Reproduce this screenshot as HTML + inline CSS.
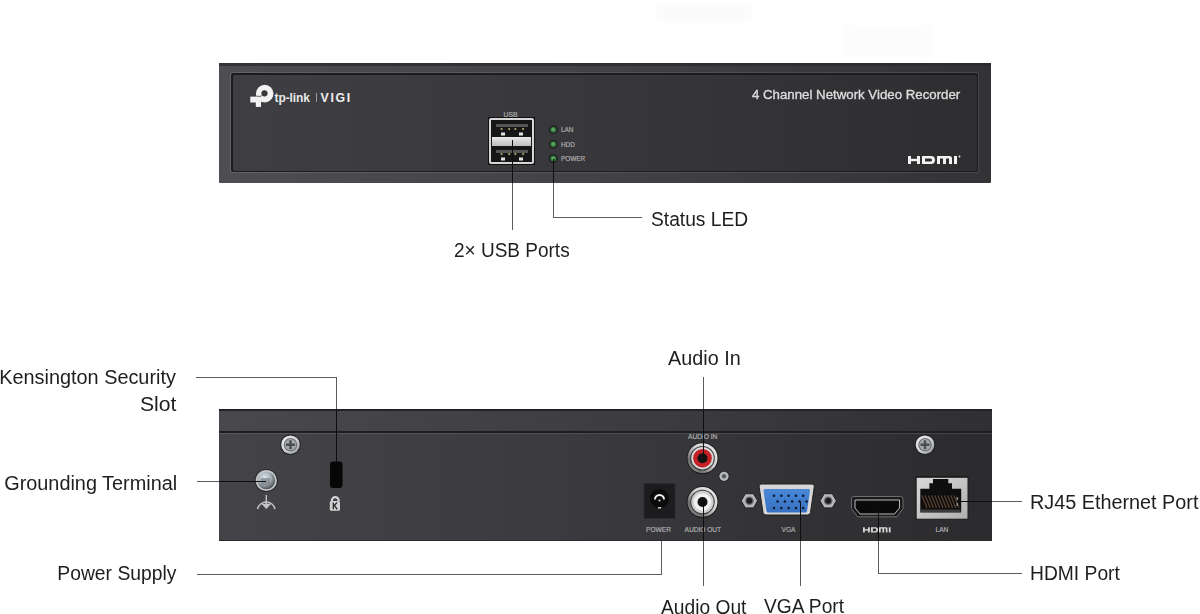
<!DOCTYPE html>
<html><head><meta charset="utf-8">
<style>
html,body{margin:0;padding:0;background:#fff;width:1200px;height:614px;overflow:hidden;position:relative;font-family:"Liberation Sans",sans-serif;}
.a{position:absolute;}
.lbl{position:absolute;font-size:20px;line-height:20px;color:#1e1e1e;white-space:nowrap;}
.r{text-align:right;}
.hl{position:absolute;height:1px;background:#5c5c5c;}
.vl{position:absolute;width:1px;background:#5c5c5c;}
.k{background:#0e0e0e;}
.sm{position:absolute;font-size:6px;line-height:6px;color:#b4b4b4;white-space:nowrap;font-weight:normal;-webkit-text-stroke:0.15px #b4b4b4;}
</style></head><body>

<div class="a" style="left:656px;top:4px;width:96px;height:18px;background:#fafafa;filter:blur(4px);"></div>
<div class="a" style="left:845px;top:26px;width:86px;height:30px;background:#fbfbfb;filter:blur(4px);"></div>
<!-- FRONT PANEL -->
<div class="a" style="left:219px;top:63px;width:772px;height:120px;background:linear-gradient(to right,#4e4e52,#424246 50%,#333336);border-radius:1px;"></div>
<div class="a" style="left:219px;top:63px;width:772px;height:3px;background:linear-gradient(to right,#343437,#2c2c2f);"></div>
<div class="a" style="left:230px;top:72px;width:749px;height:101px;border-radius:3px;background:linear-gradient(to right,#646468,#545458 50%,#48484c);"></div>
<div class="a" style="left:231px;top:73px;width:747px;height:99px;border-radius:2px;background:#1c1c1f;"></div>
<div class="a" style="left:233px;top:75px;width:744px;height:96px;border-radius:2px;background:linear-gradient(to right,#3f3f43,#38383c 45%,#2e2e31);"></div>
<!-- logo -->
<svg class="a" style="left:248px;top:84px;" width="26" height="25" viewBox="0 0 26 25">
 <circle cx="16.7" cy="9.6" r="8.8" fill="#f2f2f2"/>
 <circle cx="16.5" cy="9.3" r="3.1" fill="#38383b"/>
 <rect x="2.3" y="12.6" width="11" height="5.9" fill="#f2f2f2"/>
 <rect x="7.8" y="12.6" width="5.2" height="10.3" fill="#f2f2f2"/>
 <path d="M8.5 12.3 L13.2 12.3 L14.2 11" stroke="#3a3a3d" stroke-width="0.7" fill="none"/>
</svg>
<div class="a" style="left:274.5px;top:89.6px;font-size:12px;line-height:16px;font-weight:bold;color:#e8e8e8;letter-spacing:-0.1px;">tp-link</div>
<div class="a" style="left:316px;top:93px;width:1px;height:9px;background:#9a9a9a;"></div>
<div class="a" style="left:320.5px;top:89.6px;font-size:12.3px;line-height:16px;font-weight:bold;color:#f0f0f0;letter-spacing:1.7px;">VIGI</div>
<div class="a" style="left:752px;top:88px;font-size:12.5px;line-height:14px;font-weight:normal;color:#dcdcdc;-webkit-text-stroke:0.35px #dcdcdc;transform:scaleX(1.06);transform-origin:0 0;">4 Channel Network Video Recorder</div>
<!-- HDMI logo front -->
<svg class="a" style="left:906.5px;top:155px;" width="58" height="10" viewBox="0 0 58 10">
 <g fill="#f2f2f2">
  <rect x="1" y="1" width="3" height="8"/><rect x="10" y="1" width="3" height="8"/><rect x="1" y="3.8" width="12" height="2.4"/>
  <path d="M15 1 H24 Q28 1 28 5 Q28 9 24 9 H15 Z M18 3.4 V6.6 H23.5 Q25 6.6 25 5 Q25 3.4 23.5 3.4 Z"/>
  <path d="M30 1 H42.5 Q45 1 45 3.5 V9 H42 V3.4 H39 V9 H36 V3.4 H33 V9 H30 Z"/>
  <rect x="47" y="1" width="3" height="8"/>
  <circle cx="52.5" cy="1.5" r="0.9"/>
 </g>
</svg>
<!-- USB -->
<div class="a" style="left:488px;top:117px;width:47px;height:48px;background:#121213;"></div>
<div class="a" style="left:489px;top:118px;width:41px;height:42px;border:2px solid #d6d6d6;border-radius:2px;background:#161617;"></div>
<div class="a" style="left:495.5px;top:124px;width:32px;height:3px;background:#555555;"></div>
<div class="a" style="left:495.5px;top:149.5px;width:32px;height:3px;background:#555555;"></div>
<div class="a" style="left:492px;top:137px;width:39px;height:9px;background:linear-gradient(#e8e8e8,#bdbdbd);"></div>
<svg class="a" style="left:488px;top:117px;" width="47" height="48">
 <g fill="#bba760"><circle cx="13.6" cy="12" r="1.1"/><circle cx="21.2" cy="12" r="1.1"/><circle cx="27.3" cy="12" r="1.1"/><circle cx="35.1" cy="12" r="1.1"/>
 <circle cx="13.6" cy="37" r="1.1"/><circle cx="21.2" cy="37" r="1.1"/><circle cx="27.3" cy="37" r="1.1"/><circle cx="35.1" cy="37" r="1.1"/></g>
 <g fill="#e0e0e0"><rect x="13" y="15.5" width="4" height="3"/><rect x="31" y="15.5" width="4" height="3"/>
 <rect x="13" y="40.5" width="4" height="3"/><rect x="31" y="40.5" width="4" height="3"/></g>
</svg>
<div class="sm" style="left:503.5px;top:110.5px;font-size:6.8px;line-height:7px;">USB</div>
<!-- LEDs -->
<svg class="a" style="left:545px;top:122px;" width="16" height="45">
 <g><circle cx="8.3" cy="7.7" r="4.4" fill="#1b1e1b"/><circle cx="8.3" cy="7.7" r="3" fill="#357a40"/><circle cx="8.1" cy="7.4" r="1.5" fill="#62a86a"/></g>
 <g><circle cx="8.3" cy="22.3" r="4.4" fill="#1b1e1b"/><circle cx="8.3" cy="22.3" r="3" fill="#357a40"/><circle cx="8.1" cy="22.0" r="1.5" fill="#62a86a"/></g>
 <g><circle cx="8.3" cy="36.6" r="4.4" fill="#1b1e1b"/><circle cx="8.3" cy="36.6" r="3" fill="#357a40"/><circle cx="8.1" cy="36.300000000000004" r="1.5" fill="#62a86a"/></g>
</svg>
<div class="sm" style="left:561px;top:126px;font-size:6.4px;line-height:7px;">LAN</div>
<div class="sm" style="left:561px;top:140.5px;font-size:6.4px;line-height:7px;">HDD</div>
<div class="sm" style="left:561px;top:155px;font-size:6.4px;line-height:7px;">POWER</div>

<!-- REAR PANEL -->
<div class="a" style="left:219px;top:409px;width:773px;height:132px;background:linear-gradient(to right,#444448,#3b3b3f 45%,#2b2b2e);"></div>
<div class="a" style="left:219px;top:409px;width:773px;height:2px;background:#232326;"></div>
<div class="a" style="left:219px;top:411px;width:773px;height:20px;background:linear-gradient(to right,#49494d,#3f3f43 45%,#303033);"></div>
<div class="a" style="left:219px;top:431px;width:773px;height:2px;background:#1e1e21;"></div>
<div class="a" style="left:219px;top:433px;width:773px;height:1px;background:linear-gradient(to right,#5a5a5e,#4e4e52 50%,#444447);"></div>
<div class="a" style="left:219px;top:540px;width:773px;height:1px;background:#2a2a2d;"></div>

<!-- REAR COMPONENTS -->
<svg class="a" style="left:0;top:0;" width="1200" height="614" viewBox="0 0 1200 614">
 <defs>
  <linearGradient id="scr" x1="0" y1="0" x2="1" y2="1"><stop offset="0" stop-color="#f2f3f4"/><stop offset="0.6" stop-color="#c9cccf"/><stop offset="1" stop-color="#8a8d90"/></linearGradient>
  <radialGradient id="gscr" cx="40%" cy="35%" r="70%"><stop offset="0" stop-color="#dfe6ec"/><stop offset="0.5" stop-color="#a8b2ba"/><stop offset="1" stop-color="#3f4448"/></radialGradient>
  <linearGradient id="silv" x1="1" y1="0" x2="0" y2="1"><stop offset="0" stop-color="#f2f2f2"/><stop offset="0.45" stop-color="#cfcfcf"/><stop offset="0.75" stop-color="#6e6e6e"/><stop offset="1" stop-color="#9a9a9a"/></linearGradient>
  <linearGradient id="rjs" x1="0" y1="0" x2="1" y2="1"><stop offset="0" stop-color="#d9d9d9"/><stop offset="1" stop-color="#b0b0b0"/></linearGradient>
  <linearGradient id="vgab" x1="0" y1="0" x2="0" y2="1"><stop offset="0" stop-color="#4a88d6"/><stop offset="1" stop-color="#3670c2"/></linearGradient>
 </defs>
 <!-- screws top -->
 <circle cx="290.5" cy="444.7" r="10.3" fill="#1f1f21"/>
 <circle cx="290.5" cy="444.7" r="9.3" fill="url(#scr)"/>
 <circle cx="290.5" cy="444.7" r="6.8" fill="#6f7275"/>
 <circle cx="290.5" cy="444.7" r="5.6" fill="#a6a9ac"/>
 <path d="M289.3 440.2 L291.7 440.2 L291.7 443.5 L295.0 443.5 L295.0 445.9 L291.7 445.9 L291.7 449.2 L289.3 449.2 L289.3 445.9 L286.0 445.9 L286.0 443.5 L289.3 443.5 Z" fill="#4a4d50"/>
 <circle cx="925" cy="444.7" r="10.3" fill="#1f1f21"/>
 <circle cx="925" cy="444.7" r="9.3" fill="url(#scr)"/>
 <circle cx="925" cy="444.7" r="6.8" fill="#6f7275"/>
 <circle cx="925" cy="444.7" r="5.6" fill="#a6a9ac"/>
 <path d="M923.8 440.2 L926.2 440.2 L926.2 443.5 L929.5 443.5 L929.5 445.9 L926.2 445.9 L926.2 449.2 L923.8 449.2 L923.8 445.9 L920.5 445.9 L920.5 443.5 L923.8 443.5 Z" fill="#4a4d50"/>
 <!-- grounding terminal -->
 <circle cx="266.3" cy="480.5" r="11.6" fill="#2a2a2c"/>
 <circle cx="266.3" cy="480.5" r="10.6" fill="#c4c6c8"/>
 <circle cx="266.3" cy="480.5" r="8.8" fill="url(#gscr)"/>
 <rect x="261" y="478" width="9" height="7" fill="#7a8288" opacity="0.7"/>
 <!-- ground symbol -->
 <path d="M257.5 509 A9 9 0 0 1 275 509" fill="none" stroke="#c4c4c4" stroke-width="1.6"/>
 <line x1="266.3" y1="495" x2="266.3" y2="505" stroke="#c4c4c4" stroke-width="1.4"/>
 <path d="M261.5 504 L271 504 L266.3 509 Z" fill="#c4c4c4"/>
 <!-- kensington -->
 <rect x="330" y="461.5" width="12.5" height="26.5" rx="3" fill="#070708"/>
 <path d="M331.8 501 A3.5 3.8 0 0 1 338.8 501" fill="none" stroke="#d2d2d2" stroke-width="2.2"/>
 <rect x="329.8" y="501" width="10.2" height="9.8" rx="1.5" fill="#d2d2d2"/>
 <path d="M333.3 502.5 V509.3 M333.8 506 L337 502.5 M334.5 505.5 L337.2 509.3" stroke="#2a2a2a" stroke-width="1.3" fill="none"/>
 <!-- power jack -->
 <rect x="644" y="483.5" width="31" height="35" fill="#1c1c1e" stroke="#2b2b2e" stroke-width="1"/>
 <circle cx="659.5" cy="498.5" r="9.5" fill="#0b0b0c"/>
 <path d="M655 499.5 A4.5 4.5 0 0 1 664 499.5" fill="none" stroke="#f0f0f0" stroke-width="2"/>
 <circle cx="659.5" cy="500.5" r="1.1" fill="#d0d0d0"/>
 <rect x="658" y="507" width="3.2" height="1.6" fill="#bdbdbd"/>
 <!-- audio in -->
 <circle cx="702.5" cy="458.2" r="16" fill="#1c1c1e"/>
 <circle cx="702.5" cy="458.2" r="15" fill="url(#silv)"/>
 <circle cx="702.5" cy="458.2" r="12.3" fill="#3a3a3c"/>
 <circle cx="702.5" cy="458.2" r="11.2" fill="#d9d9d9"/>
 <circle cx="702.5" cy="458.2" r="9.3" fill="#c42026"/>
 <circle cx="702.5" cy="458.2" r="5" fill="#121212"/>
 <!-- small nut -->
 <circle cx="724" cy="476.3" r="5.6" fill="#2a2a2c"/>
 <circle cx="724" cy="476.3" r="4.6" fill="#b8babc"/>
 <circle cx="724" cy="476.3" r="2.2" fill="#5a5c5e"/>
 <!-- audio out -->
 <circle cx="702.5" cy="502" r="16" fill="#1c1c1e"/>
 <circle cx="702.5" cy="502" r="15" fill="url(#silv)"/>
 <circle cx="702.5" cy="502" r="12.3" fill="#3a3a3c"/>
 <circle cx="702.5" cy="502" r="11.2" fill="#cfcfcf"/>
 <circle cx="702.5" cy="502" r="8.8" fill="#f0f0f0"/>
 <circle cx="702.5" cy="502" r="5" fill="#121212"/>
 <!-- VGA nuts -->
 <polygon points="741.2,500.8 745.3,493.7 753.5,493.7 757.6,500.8 753.5,507.9 745.3,507.9" fill="#b4b6b8" stroke="#202022" stroke-width="1"/>
 <circle cx="749.4" cy="500.8" r="4.3" fill="#6a6c6e"/><circle cx="749.4" cy="500.8" r="3" fill="#1e1e20"/>
 <polygon points="820,500.8 824.1,493.7 832.3,493.7 836.4,500.8 832.3,507.9 824.1,507.9" fill="#b4b6b8" stroke="#202022" stroke-width="1"/>
 <circle cx="828.2" cy="500.8" r="4.3" fill="#6a6c6e"/><circle cx="828.2" cy="500.8" r="3" fill="#1e1e20"/>
 <!-- VGA shell -->
 <path d="M759 486 Q759 484 761.5 484 L812 484 Q814.5 484 814.3 486.5 L810.5 512.5 Q810 515 807.5 515 L766 515 Q763.5 515 763 512.5 Z" fill="#d6d6d6" stroke="#1e1e20" stroke-width="1"/>
 <path d="M763.5 490.5 Q763.5 489 765 489 L808.5 489 Q810.2 489 810 490.8 L807 511 Q806.7 512.5 805 512.5 L768.5 512.5 Q766.8 512.5 766.5 511 Z" fill="url(#vgab)"/>
 <g fill="#0d1a30">
  <circle cx="774" cy="495.7" r="1.3"/><circle cx="781.3" cy="495.7" r="1.3"/><circle cx="788.6" cy="495.7" r="1.3"/><circle cx="795.9" cy="495.7" r="1.3"/><circle cx="803.2" cy="495.7" r="1.3"/>
  <circle cx="777.6" cy="501.5" r="1.3"/><circle cx="784.9" cy="501.5" r="1.3"/><circle cx="792.2" cy="501.5" r="1.3"/><circle cx="799.5" cy="501.5" r="1.3"/><circle cx="806.6" cy="501.5" r="1.3"/>
  <circle cx="774" cy="508" r="1.3"/><circle cx="781.3" cy="508" r="1.3"/><circle cx="788.6" cy="508" r="1.3"/><circle cx="795.9" cy="508" r="1.3"/><circle cx="803.2" cy="508" r="1.3"/>
 </g>
 <!-- HDMI port -->
 <path d="M851.5 499 Q851.5 496.5 854 496.5 L900.5 496.5 Q903 496.5 903 499 L903 508.5 L897 516.8 L857.5 516.8 L851.5 508.5 Z" fill="#1a1a1c" stroke="#6e6e70" stroke-width="1"/>
 <path d="M855 500 L899.5 500 L899.5 508 L894.5 514 L860 514 L855 508 Z" fill="#0a0a0b" stroke="#b9b9b9" stroke-width="1"/>
 <!-- RJ45 -->
 <rect x="915.5" y="476" width="53" height="43.3" fill="#1a1a1c"/>
 <rect x="916.7" y="477.8" width="50.8" height="40.9" fill="url(#rjs)"/>
 <path d="M920.3 488.8 L929.4 488.8 L929.4 483.3 L933 483.3 L933 479 L948.3 479 L948.3 483.3 L952 483.3 L952 488.8 L961.2 488.8 L961.2 512.6 L920.3 512.6 Z" fill="#0e0e0f"/>
 <g stroke="#5e4330" stroke-width="1.2">
  <line x1="922.0" y1="495.5" x2="927.0" y2="508"/>
  <line x1="925.2" y1="495.5" x2="930.2" y2="508"/>
  <line x1="928.4" y1="495.5" x2="933.4" y2="508"/>
  <line x1="931.6" y1="495.5" x2="936.6" y2="508"/>
  <line x1="934.8" y1="495.5" x2="939.8" y2="508"/>
  <line x1="938.0" y1="495.5" x2="943.0" y2="508"/>
  <line x1="941.2" y1="495.5" x2="946.2" y2="508"/>
  <line x1="944.4" y1="495.5" x2="949.4" y2="508"/>
  <line x1="947.6" y1="495.5" x2="952.6" y2="508"/>
  <line x1="950.8" y1="495.5" x2="955.8" y2="508"/>
  <line x1="954.0" y1="495.5" x2="959.0" y2="508"/>
 </g>
 <rect x="956.5" y="497" width="1.6" height="3" fill="#8a8a8a"/><rect x="956.5" y="503" width="1.6" height="3" fill="#8a8a8a"/>
 <rect x="921" y="509.5" width="39.5" height="2.5" fill="#3c3c3e"/>
 <!-- HDMI logo rear -->
 <g fill="#d8d8d8" transform="translate(863,527.3) scale(1.0,0.95)">
  <rect x="0" y="0" width="1.8" height="5.4"/><rect x="5" y="0" width="1.8" height="5.4"/><rect x="0" y="2" width="6.8" height="1.4"/>
  <path d="M8 0 H12.5 Q15 0 15 2.7 Q15 5.4 12.5 5.4 H8 Z M9.8 1.3 V4.1 H12.3 Q13.2 4.1 13.2 2.7 Q13.2 1.3 12.3 1.3 Z"/>
  <path d="M16 0 H23 Q24.5 0 24.5 1.5 V5.4 H22.8 V1.3 H21.1 V5.4 H19.4 V1.3 H17.7 V5.4 H16 Z"/>
  <rect x="25.8" y="0" width="1.8" height="5.4"/>
 </g>
</svg>
<div class="sm" style="left:688px;top:432.5px;font-size:6.6px;line-height:7px;">AUDIO IN</div>
<div class="sm" style="left:646px;top:526px;font-size:6.6px;line-height:7px;">POWER</div>
<div class="sm" style="left:684.5px;top:526px;font-size:6.6px;line-height:7px;">AUDIO OUT</div>
<div class="sm" style="left:781.5px;top:526px;font-size:6.6px;line-height:7px;">VGA</div>
<div class="sm" style="left:935.5px;top:526px;font-size:6.6px;line-height:7px;">LAN</div>

<!-- LABELS -->
<div class="lbl" style="left:651px;top:209px;transform:scaleX(0.96);transform-origin:0 0;">Status LED</div>
<div class="lbl" style="left:454px;top:240px;transform:scaleX(0.95);transform-origin:0 0;">2× USB Ports</div>
<div class="lbl r" style="right:1024px;top:367px;transform:scaleX(0.993);transform-origin:100% 0;">Kensington Security</div>
<div class="lbl r" style="right:1024px;top:394px;transform:scaleX(1.06);transform-origin:100% 0;">Slot</div>
<div class="lbl r" style="right:1023px;top:472.5px;transform:scaleX(0.993);transform-origin:100% 0;">Grounding Terminal</div>
<div class="lbl r" style="right:1024px;top:563px;transform:scaleX(0.965);transform-origin:100% 0;">Power Supply</div>
<div class="lbl" style="left:668px;top:348px;transform:scaleX(0.99);transform-origin:0 0;">Audio In</div>
<div class="lbl" style="left:660.5px;top:596.5px;transform:scaleX(0.96);transform-origin:0 0;">Audio Out</div>
<div class="lbl" style="left:763.5px;top:596px;transform:scaleX(0.96);transform-origin:0 0;">VGA Port</div>
<div class="lbl" style="left:1030px;top:491.5px;transform:scaleX(0.99);transform-origin:0 0;">RJ45 Ethernet Port</div>
<div class="lbl" style="left:1030px;top:563px;transform:scaleX(0.963);transform-origin:0 0;">HDMI Port</div>

<!-- LINES -->
<div class="vl k" style="left:512px;top:140px;height:43px;"></div>
<div class="vl" style="left:512px;top:183px;height:47px;"></div>
<div class="vl k" style="left:553px;top:159px;height:24px;"></div>
<div class="vl" style="left:553px;top:183px;height:35px;"></div>
<div class="hl" style="left:553px;top:217px;width:89px;"></div>
<div class="hl" style="left:196px;top:377px;width:141px;"></div>
<div class="vl" style="left:336px;top:377px;height:32px;"></div>
<div class="vl k" style="left:336px;top:409px;height:53px;"></div>
<div class="vl" style="left:703px;top:377px;height:32px;"></div>
<div class="vl k" style="left:703px;top:409px;height:50px;"></div>
<div class="hl" style="left:197px;top:481px;width:22px;"></div>
<div class="hl k" style="left:219px;top:481px;width:47px;"></div>
<div class="hl" style="left:197px;top:574px;width:464px;"></div>
<div class="vl" style="left:661px;top:541px;height:34px;"></div>
<div class="vl k" style="left:703px;top:502px;height:39px;"></div>
<div class="vl" style="left:703px;top:541px;height:45px;"></div>
<div class="vl k" style="left:800px;top:502px;height:39px;"></div>
<div class="vl" style="left:800px;top:541px;height:45px;"></div>
<div class="vl k" style="left:878px;top:507px;height:34px;"></div>
<div class="vl" style="left:878px;top:541px;height:33px;"></div>
<div class="hl" style="left:878px;top:573px;width:144px;"></div>
<div class="hl k" style="left:961px;top:501px;width:31px;"></div>
<div class="hl" style="left:992px;top:501px;width:30px;"></div>

</body></html>
